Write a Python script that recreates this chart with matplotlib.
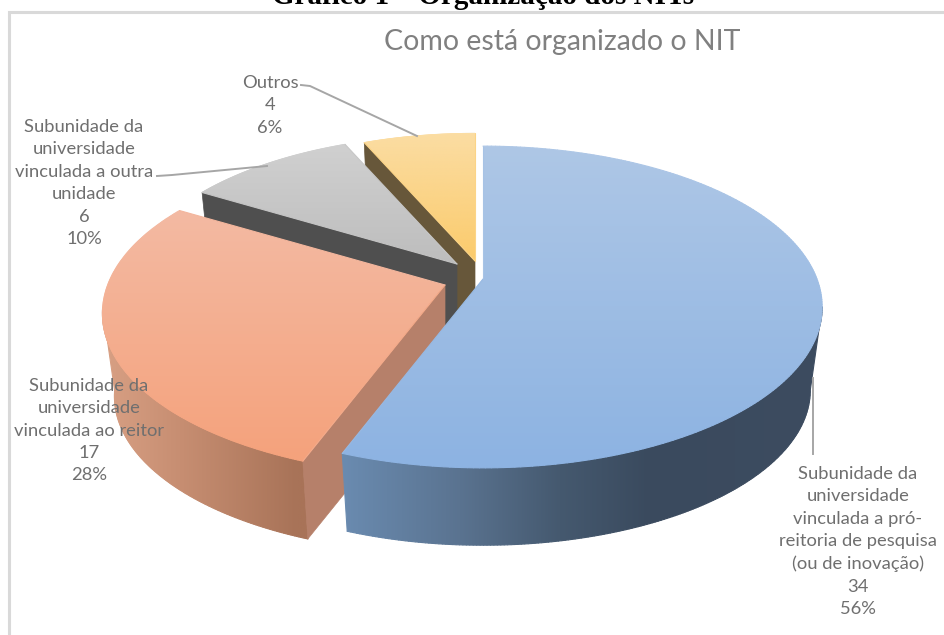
import numpy as np
import matplotlib
matplotlib.use("Agg")
import matplotlib.pyplot as plt
from matplotlib.patches import Polygon
from matplotlib.collections import LineCollection

# ---- data ----
categories = [
    "Subunidade da\nuniversidade\nvinculada a pró-\nreitoria de pesquisa\n(ou de inovação)",
    "Subunidade da\nuniversidade\nvinculada ao reitor",
    "Subunidade da\nuniversidade\nvinculada a outra\nunidade",
    "Outros",
]
values = [34, 17, 6, 4]
percents = ["56%", "28%", "10%", "6%"]
chart_title = "Como está organizado o NIT"
caption = "Gráfico 1 – Organização dos NITs"

# ---- styling / projection ----
W, H = 944, 635
A, B, K = 334.0, 156.0, 0.174      # disc half-axes and perspective factor
DROP, SHRINK = 84.0, 0.965          # extrusion of the disc
apex = [(483, 279), (445, 285), (457, 264), (475, 261)]
radius = [1.0, 1.01, 0.97, 0.96]
TEXT = "#6F6F6F"
LINE = "#A6A6A6"
top_stops = [
    [(146, "#AEC7E6"), (465, "#8DB3E2")],
    [(210, "#F3BAA3"), (459, "#F5A27C")],
    [(146, "#D0D0D0"), (264, "#BDBDBD")],
    [(133, "#FBDDA3"), (261, "#FBCB6C")],
]
blue_side = [(343, "#6A8BB0"), (460, "#5A7390"), (560, "#45596F"), (650, "#3A4A5E"), (822, "#3D4C60")]
salmon_side = [(103, "#D8A084"), (180, "#C78E72"), (297, "#A87358")]

plt.rcParams["font.family"] = ["Lato", "DejaVu Sans"]
fig = plt.figure(figsize=(W / 100, H / 100), dpi=100)
ax = fig.add_axes([0, 0, 1, 1])
ax.set_axis_off()


def project(i, theta, lower=False):
    th = np.radians(theta)
    r = radius[i]
    u, v = r * np.sin(th), r * np.cos(th)
    w = 1 + K * np.cos(th)
    dx, dy = A * u / w, -B * v / w
    ax0, ay0 = apex[i]
    if lower:
        return ax0 + SHRINK * dx, ay0 + DROP + SHRINK * dy
    return ax0 + dx, ay0 + dy


def hex_rgb(c):
    return np.array(matplotlib.colors.to_rgb(c))


def grad_fill(points, stops, horizontal, z):
    pts = np.asarray(points)
    pos = np.array([s[0] for s in stops], float)
    cols = np.array([hex_rgb(s[1]) for s in stops])
    ramp = lambda t: np.stack([np.interp(t, pos, cols[:, k]) for k in range(3)], axis=-1)
    x0, x1 = pts[:, 0].min(), pts[:, 0].max()
    y0, y1 = pts[:, 1].min(), pts[:, 1].max()
    lo, hi = (x0, x1) if horizontal else (y0, y1)
    line = ramp(np.linspace(lo, hi, 300))
    img = line[np.newaxis, :, :] if horizontal else line[:, np.newaxis, :]
    im = ax.imshow(img, extent=(x0, x1, y1, y0), origin="upper", aspect="auto",
                   interpolation="bilinear", zorder=z + 0.1)
    im.set_clip_path(Polygon(pts, closed=True, transform=ax.transData))
    # antialiased outline following the same ramp, to soften the clipped edge
    closed = np.vstack([pts, pts[:1]])
    segs = np.stack([closed[:-1], closed[1:]], axis=1)
    coord = segs[:, :, 0 if horizontal else 1].mean(axis=1)
    ax.add_collection(LineCollection(segs, colors=ramp(coord), linewidths=0.8, zorder=z + 0.2,
                                     capstyle="round"))


def wedge_top(i, t0, t1):
    th = np.linspace(t0, t1, 240)
    xs, ys = project(i, th)
    return np.vstack([[apex[i]], np.column_stack([xs, ys])])


def side(i, t0, t1):
    th = np.linspace(t0, t1, 200)
    a = np.column_stack(project(i, th))
    b = np.column_stack(project(i, th, lower=True))
    return np.vstack([a, b[::-1]])


def cut(i, theta):
    p = project(i, theta)
    q = project(i, theta, lower=True)
    ax0, ay0 = apex[i]
    return [p, q, (ax0, ay0 + DROP), (ax0, ay0)]


total = sum(values)
bounds = np.concatenate([[0], np.cumsum(values)]) * 360.0 / total
T = [(bounds[i], bounds[i + 1]) for i in range(len(values))]

# painter's order: back to front
z = 2
ax.add_patch(Polygon(cut(3, T[3][0]), closed=True, fc="#67573A", ec="#67573A", lw=0.5, zorder=z))
grad_fill(wedge_top(3, *T[3]), top_stops[3], False, z + 1)
z = 4
ax.add_patch(Polygon(cut(2, T[2][0]), closed=True, fc="#4F4F4F", ec="#4F4F4F", lw=0.5, zorder=z))
grad_fill(wedge_top(2, *T[2]), top_stops[2], False, z + 1)
z = 6
grad_fill(side(1, T[1][0], 262), salmon_side, True, z)
ax.add_patch(Polygon(cut(1, T[1][0]), closed=True, fc="#B6806A", ec="#B6806A", lw=0.5, zorder=z + 0.5))
grad_fill(wedge_top(1, *T[1]), top_stops[1], False, z + 1)
z = 8
grad_fill(side(0, 100, T[0][1]), blue_side, True, z)
grad_fill(wedge_top(0, *T[0]), top_stops[0], False, z + 1)

# frame: top and left edges only
ax.plot([8.5, 8.5, W + 2], [H + 2, 11.5, 11.5], color="#D9D9D9", lw=2.2, zorder=1,
        solid_joinstyle="miter")

# leader lines
for xs, ys in [([301, 310, 417], [85, 86, 136]),
               ([157, 172, 267], [176, 175, 166]),
               ([813, 813], [378, 454])]:
    ax.plot(xs, ys, color=LINE, lw=1.4, zorder=12)

# texts
ax.text(483, 4, caption, family="Liberation Serif", weight="bold", fontsize=21,
        ha="center", va="baseline", color="black", zorder=13)
ax.text(562, 42, chart_title, fontsize=20.5, ha="center", va="center", color="#808080", zorder=13)

label_pos = [(858, 541.5), (89, 430.5), (84, 183), (270, 105.5)]
for cat, val, pct, (lx, ly) in zip(categories, values, percents, label_pos):
    ax.text(lx, ly, f"{cat}\n{val}\n{pct}", fontsize=13.2, ha="center", va="center",
            color=TEXT, linespacing=1.49, zorder=13)

ax.set_xlim(0, W)
ax.set_ylim(H, 0)
fig.savefig("out.png", dpi=100, facecolor="white")
